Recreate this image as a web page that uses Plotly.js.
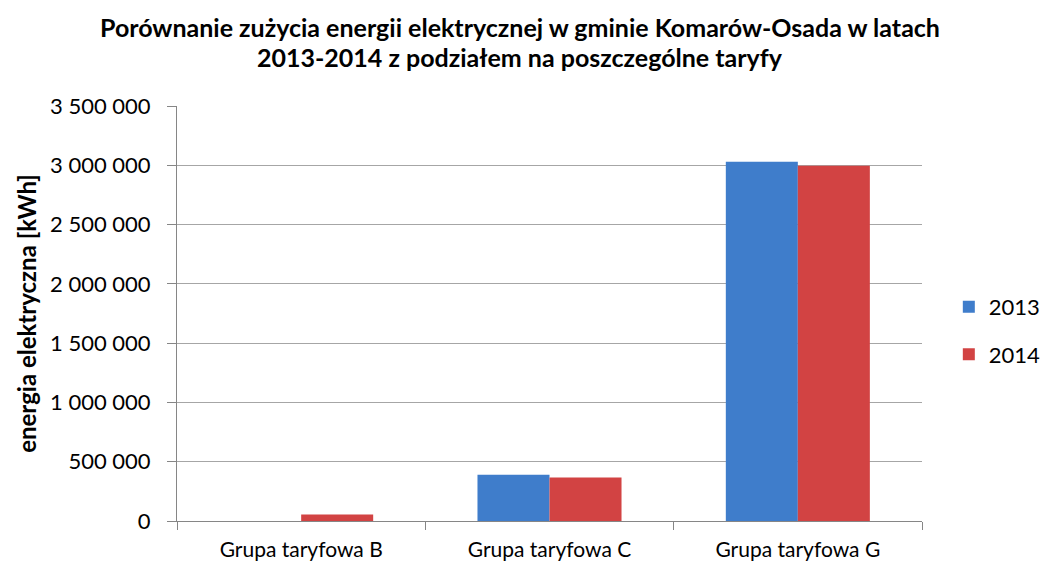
<!DOCTYPE html>
<html><head><meta charset="utf-8">
<script src="https://cdn.plot.ly/plotly-3.0.1.min.js"></script>
<style>body{margin:0;background:#fff}#chart{width:1044px;height:568px}</style>
</head><body><div id="chart"></div>
<script>
const categories = ["Grupa taryfowa B", "Grupa taryfowa C", "Grupa taryfowa G"];
const series2013 = [0, 390000, 3030000];
const series2014 = [54000, 367000, 2997000];
const seriesNames = ["2013", "2014"];
const yTicks = [0, 500000, 1000000, 1500000, 2000000, 2500000, 3000000, 3500000];
const titleLines = ["Porównanie zużycia energii elektrycznej w gminie Komarów-Osada w latach",
                    "2013-2014 z podziałem na poszczególne taryfy"];

const FONT = "Lato, 'Open Sans', sans-serif";
const traces = [
  {type: "bar", name: seriesNames[0], x: categories, y: series2013, legendgroup: "a",
   marker: {color: "#3f7dcb", line: {color: "#2c5f9e", width: 0}}},
  {type: "bar", name: seriesNames[1], x: categories, y: series2014, legendgroup: "b",
   marker: {color: "#d24343", line: {color: "#8e2a2a", width: 0}}}
];
const layout = {
  width: 1044, height: 568,
  paper_bgcolor: "#fff", plot_bgcolor: "#fff",
  separators: ", ",
  font: {family: FONT, color: "#000", size: 16},
  annotations: [
    {text: "<b>" + titleLines[0] + "</b>", xref: "paper", yref: "paper", x: 0.46, y: 1.19, showarrow: false,
     xanchor: "center", yanchor: "middle", font: {family: FONT, size: 25, color: "#000"}},
    {text: "<b>" + titleLines[1] + "</b>", xref: "paper", yref: "paper", x: 0.46, y: 1.118, showarrow: false,
     xanchor: "center", yanchor: "middle", font: {family: FONT, size: 25, color: "#000"}}
  ],
  margin: {l: 177, r: 122, t: 106, b: 47, autoexpand: false},
  barmode: "group", bargap: 0.42, bargroupgap: 0,
  xaxis: {type: "category", showline: true, linecolor: "#868686", linewidth: 1,
          ticks: "outside", tickson: "boundaries", ticklen: 8, tickcolor: "#868686",
          ticklabelstandoff: 10,
          tickfont: {family: FONT, size: 21, color: "#000"}, showgrid: false},
  yaxis: {range: [0, 3500000], tickvals: yTicks, tickformat: ",d",
          showline: true, linecolor: "#868686", linewidth: 1,
          ticks: "outside", ticklen: 9, tickcolor: "#868686",
          ticklabelstandoff: 12,
          gridcolor: "#a6a6a6", gridwidth: 1, zeroline: false,
          tickfont: {family: FONT, size: 22, color: "#000"},
          title: {text: "<b>energia elektryczna [kWh]</b>", font: {family: FONT, size: 24, color: "#000"}, standoff: 6}},
  legend: {x: 1.036, y: 0.458, xanchor: "left", yanchor: "middle", font: {family: FONT, size: 22, color: "#000"},
           tracegroupgap: 16, itemwidth: 30}
};
Plotly.newPlot("chart", traces, layout, {displayModeBar: false, responsive: false});
</script></body></html>
